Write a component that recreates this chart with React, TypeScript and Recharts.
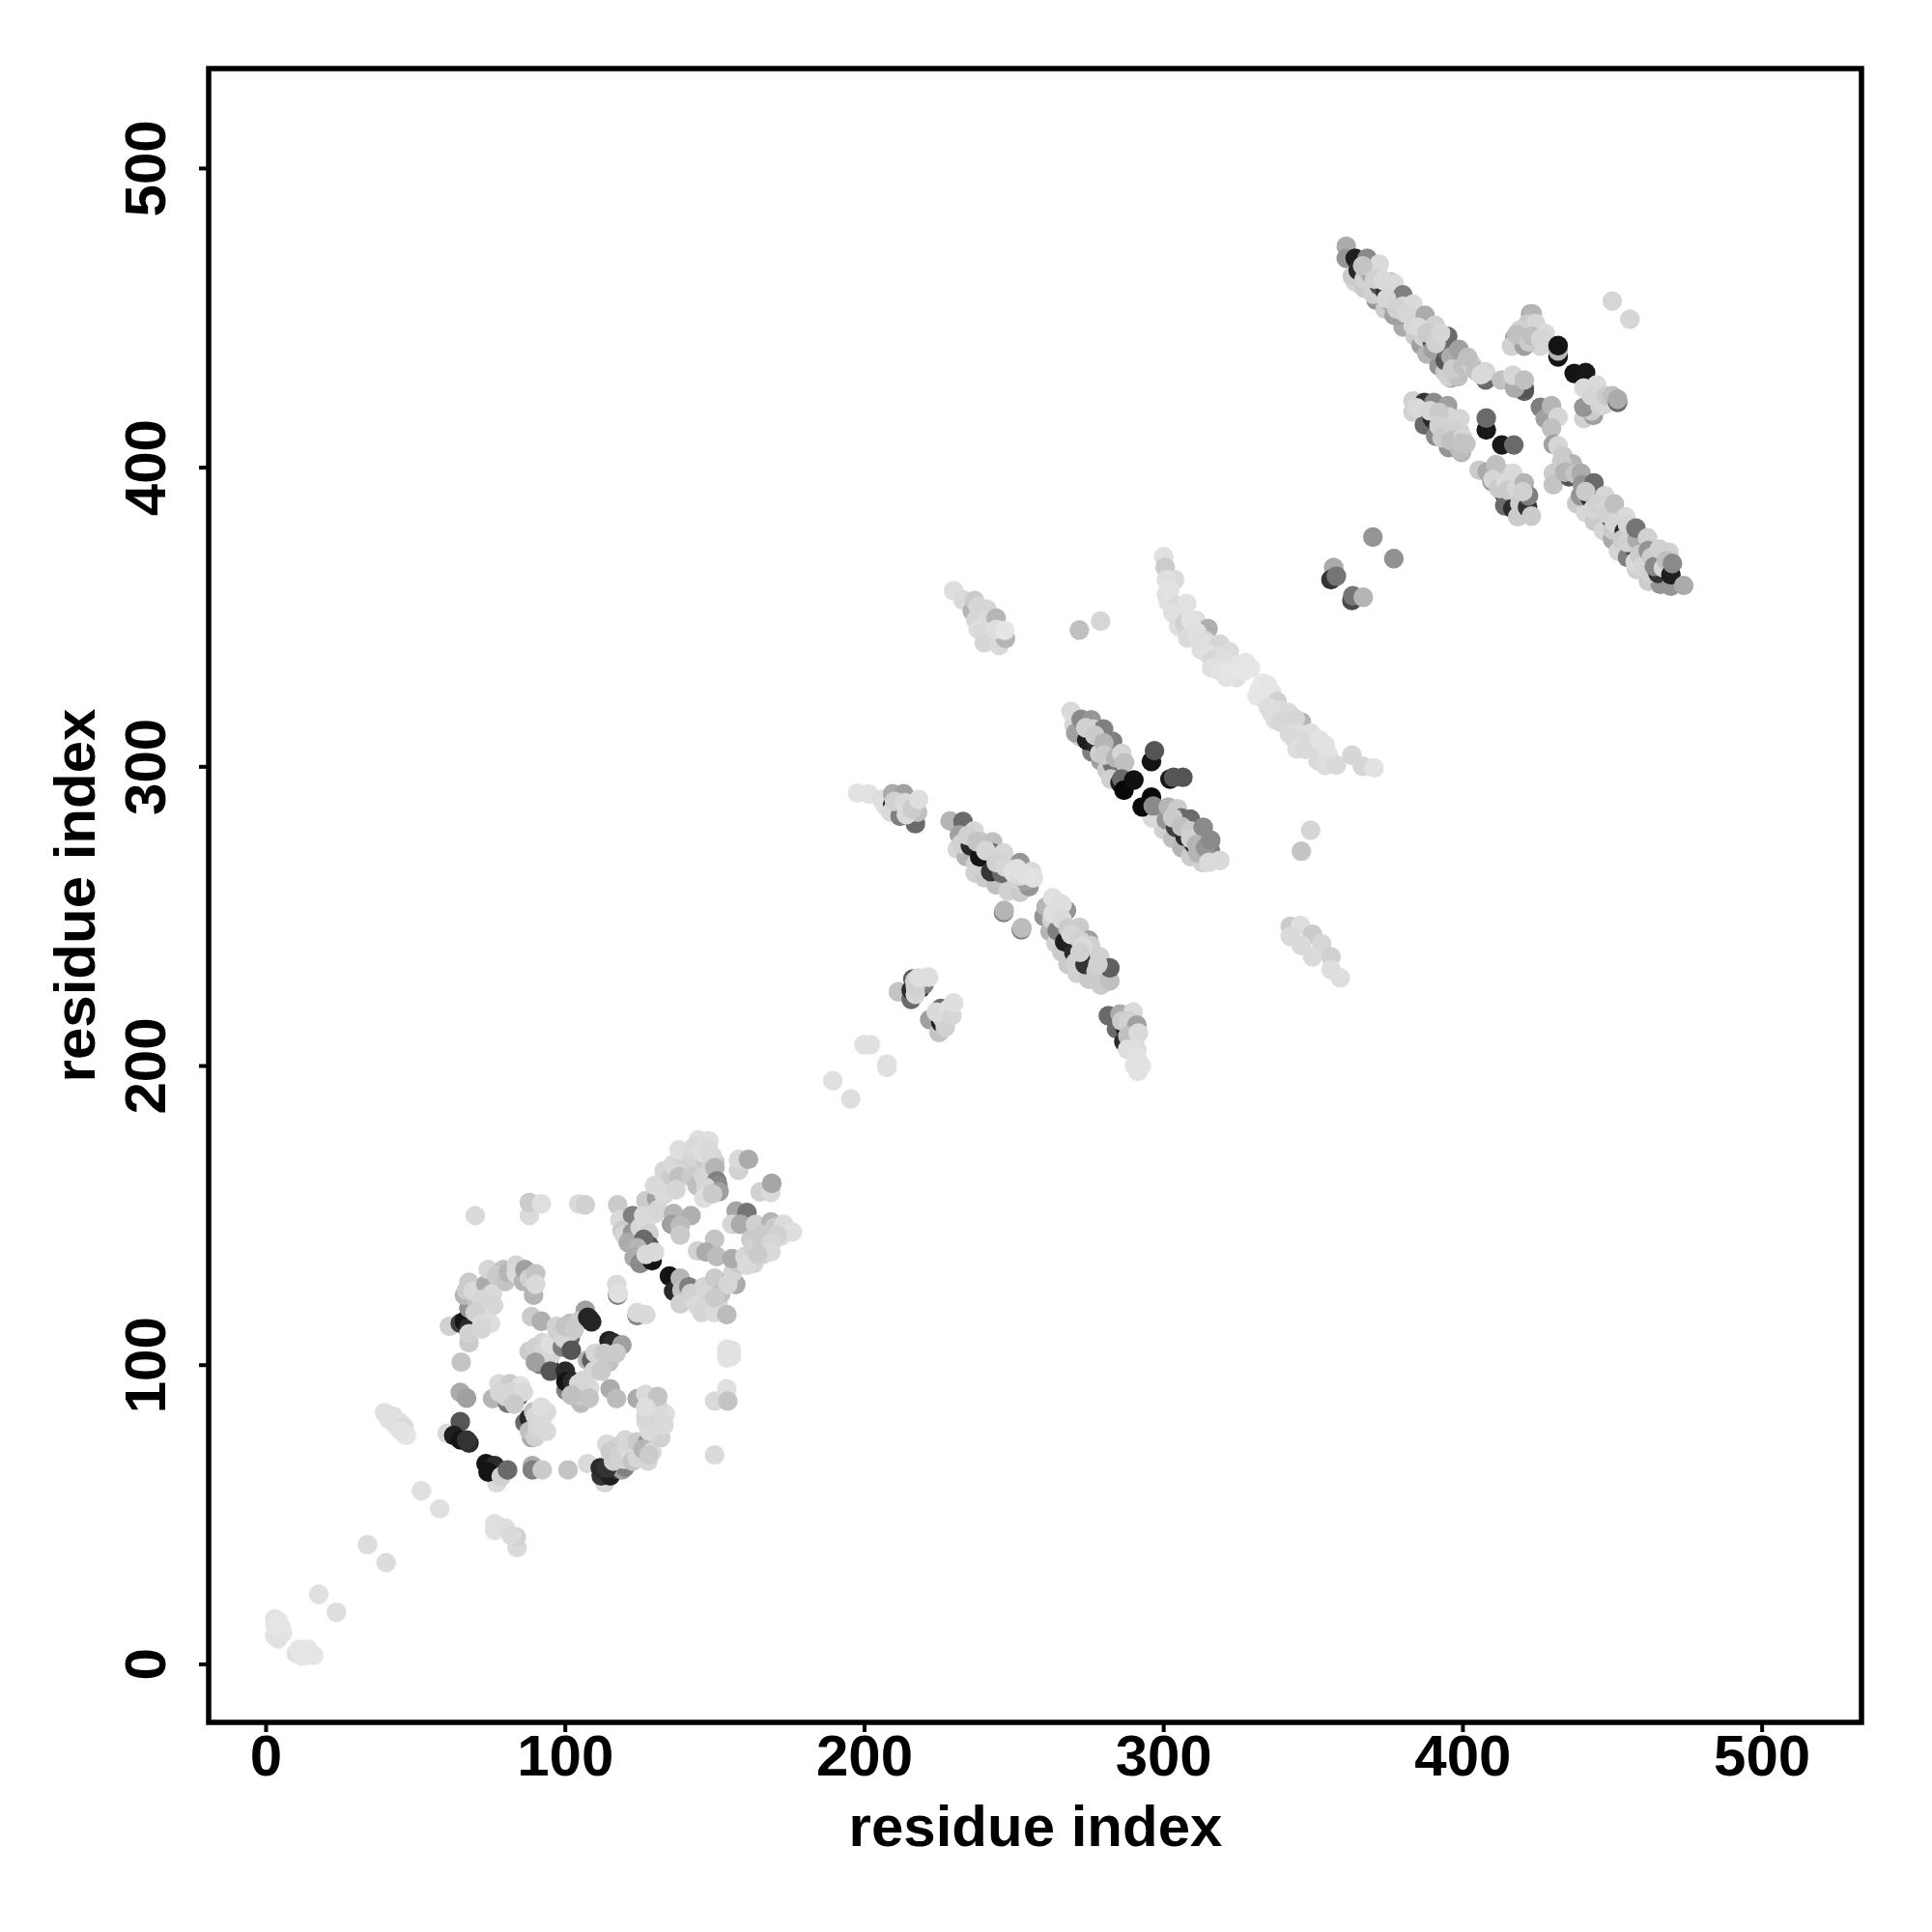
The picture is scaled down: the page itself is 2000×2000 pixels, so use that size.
import React from "react";
import { ScatterChart, Scatter, XAxis, YAxis, ReferenceArea } from "recharts";

type T = [number, number, number];
// each tuple: residue i, residue j, contact strength
const nearOrigin: T[] = [[17.6,23.4,5],[23.5,17.4,6],[2.9,15.2,4],[2.9,9.5,4],[5,12.4,3],[3.5,12,3],[4,14.5,3],[5.5,10.5,3],[4,8.5,4],[3,13,3],[10.1,3.7,5],[13,4.4,3],[15.9,3,3],[13,3,3],[12,2.8,3],[14,5,3],[11,5,3],[33.9,40,7],[40.1,34,7],[51.9,58,5],[58,52,5],
[76.4,47,5],[76.4,44.8,5],[78,46,5],[80,45.5,6],[83.9,39,8],[83.6,42.6,12],[82,43,8],[39.6,84.1,5],[42.5,83,5],[41,82,5],[43.3,80,5],[44.5,81,5],[46.1,79.4,8],[46.9,76.5,3],[45,78,4]];
const ringLower: T[] = [[60.5,77.2,8],[64.9,81.1,70],[62.7,76.5,95],[65,75,100],[67.8,74,90],[67,75,85],[77.1,60.7,8],[73.5,67.1,100],[76.4,66.4,90],[74.2,64.3,100],[78.6,62.8,12],[80.7,65,60],
[89,66.4,30],[89,65,50],[92.3,65,15],[100.9,65,18],[107.4,67.1,8],[113.2,60.7,10],[112,63,85],[115,63,95],[117,65,90],[119,65,35],[120,66,50],[111.7,65.7,90],[113.9,65.7,85],[113.9,73.6,8],[116.1,67.9,12],[117.5,72.9,12],[119.7,68.6,10],[115,71,15],[118,70,12],[121,72,8],[120,75,10],[124,74.3,15],[122.5,67.9,18],[127.6,74.3,45],[127.6,67.9,10],[124,69,10],[126,72,25],[129,71,8],[128,70,15],[131.9,75.8,12],[131.9,80.1,30],[130,77,12],[128,78,8],[127,81,8],[130.5,84.4,8],[133.4,83.7,6],[126.9,83,10],[131,86,8],[133,80,8],[124,88.8,30],[126.9,90.2,8],[130.9,89.5,18],[126.9,85.9,6]];
const ringInner: T[] = [[64.9,90.9,30],[67,89,35],[75.7,88.8,25],[77.8,93.8,8],[80.7,87.3,55],[80,89.5,12],[84.3,89.5,75],[81.5,93.8,15],[85.1,93.1,5],[78,91,10],[82,91,10],[86,91,8],[83,87,15],
[86.5,80.8,60],[87.9,82.3,90],[88.7,75.8,30],[88,78,20],[90,76,12],[90.8,79.4,10],[89.4,84.4,20],[93.7,84.4,8],[93.7,77.9,8],[90,83,10],[92,81,8],[92,86,6],
[88.7,116.2,15],[92,114.7,28],[87.9,104.6,15],[91.5,100.3,50],[94.4,100.3,100],[91.5,103.2,60],[92.3,107.5,10],[95.1,103.2,10],[90,106,12],[93,105,10],[95,107,6],[90,101,35],[95,98,70],
[97.3,111.8,15],[99,106,50],[101.6,109,60],[99.5,109,10],[101.6,111.1,10],[101.6,114,22],[97,113,12],[100,113,18],[103,112,15],[106.7,118.3,35],[104.5,114.7,15],[107.5,116,92],[108.8,114.5,92],[108.1,115.4,92],
[102,105,70],[114.6,108.2,95],[116,107.5,90],[118.9,106.8,35],[107.4,101.7,25],[108.8,101.7,65],[114.6,101,20],[109.6,98.1,10],[106,94.5,12],[110,104,10],[113,104,15],[117,104,15],[112,98,15],
[100.2,91.6,50],[100,98,90],[100.2,94.5,100],[102.4,94.5,90],[104.5,93.8,10],[108.1,92.4,8],[105.2,87.3,22],[104,90,15],[108,89,18],[106,95,10],[102,90,20],[115,92.1,30],[117.1,88.8,22]];
const ringUpper: T[] = [[61.3,113,12],[64.9,114,80],[66.3,114.7,100],[67.8,112.5,90],[67.8,107.5,15],[67.8,110.5,12],[65.2,101,18],[67.8,119,40],[66.3,123.4,25],[67.8,127.7,15],[67,125,15],[70,122,20],[69.2,124.8,8],[75,127.7,50],[73.5,127,30],[74,123,25],[74.2,132,10],[75.7,124,8],[72,122,10],[76,120,10],[71,118,12],[73.5,117.6,10],[72.5,116,8],[75,114,6],[69.9,117.6,12],[72.1,114,8],[72,112,10],[79.3,132,20],[77,130,15],[80,128,18],[81,131,25],[83.6,133.4,10],[83.6,130.6,8],[89.4,123.4,25],[86,128,25],[86.5,132,35],[88,129,12],[90.1,130.6,18],[90.1,127,8],
[69.9,150,8],[88,150,8],[88,154.4,15],[92,153.9,5],[104.5,153.9,8],[106.7,153.6,12],[117.2,127,8],[117.5,123.4,50],[117.7,124,5],[124,116.5,45],[124,117.6,8],[126.9,116.9,8]];
const blockB: T[] = [[117.5,153.6,15],[118.2,148.6,8],[122.5,150,50],[126.9,155,15],[130.5,155.8,35],[129.8,160.1,8],[126.2,150,8],[119,145,15],[119.7,143.5,10],[122.5,144.3,40],[121,141,30],[125,146,10],[126.9,146.4,8],[128,144,12],[128,140,70],[126.2,142.1,60],[124,139.2,25],[123,136,30],[125,134,45],[129.8,150.7,8],[129,136,80],[129,134.9,100],[127,137,8],[129.8,137.8,8],[131,152,10],[133,157,8],[134,160,8],
[134.8,129.8,100],[137,125,80],[136.2,124.8,90],[138.4,129.1,25],[139,125,20],[141.3,126.2,50],[138.4,120.5,12],[142.7,121.9,8],[142,124,12],[144,120,8],[147,120,10],[146.3,126.2,10],[149.9,129.1,15],[151,121,10],[152,124,20],[155.7,129.8,28],[157,127,30],[154.3,127,10],[145.6,117.6,10],[149.9,117.6,8],[154,116.9,22],[149.9,122.6,15],[156,131,10],[158,134,15],
[133,165,10],[137.7,168,10],[135.5,163,15],[136,167,8],[138,163,20],[137,158.7,10],[139,170,12],[138,172,6],[144.5,175.3,6],[143.4,165.9,12],[142.7,170.2,10],[142,163,15],[144,160,20],[143,173,8],[148,175,6],[147,168,15],[150,168,15],[148,165,12],[146,171,6],[149,170,10],[147.8,172.4,8],[146.3,163,10],[150,166,25],[150.6,161.6,50],[151,160,45],[147,159.4,10],[146.3,155.8,6],[151.4,158,35],[149.2,157.2,15],
[157.9,165.2,12],[157.9,168.8,8],[161.2,168.8,30],[165.1,157.9,12],[168.7,157.7,8],[169,160.8,32],
[136.2,150.7,25],[142,150,28],[135.5,147.1,35],[138.4,146.7,22],[138.4,143.5,15],
[157.1,151.5,32],[160.7,151,55],[155.7,147.1,10],[158.6,147.1,30],[163.6,147.1,12],[168.7,147.9,25],[170,146,15],[173,147.1,8],[175.9,144.5,6],[172,143,6],[165.8,143.5,15],[170.8,143.5,12],[162,142,15],
[149.9,142.1,18],[144.2,138.2,12],[147,137.8,30],[150.6,136.3,22],[155.7,135.6,30],[160,136.3,10],[162.9,139.2,12],[166,141,15],[169,141,10],[166,137,12],[168.7,137.8,8],[163,134,10],[160.7,133.4,8],[164.3,137,15],
[154,105.3,4],[155.5,105,4],[155.5,103,4],[154,103.5,4],[154,102.5,4],[154,92.1,5],[149.9,88,8],[154.3,88,18],[149.9,70,8]];
const midDots: T[] = [[199.8,207.1,5],[202,207.1,5],[207.5,200.7,5],[207.5,199.5,5],[189.4,195.1,5],[195.4,189,6]];
const clusterG: T[] = [[211.3,224.8,18],[215.6,222.3,60],[215.6,225.4,90],[216.2,229.1,70],[216.8,228.5,12],[218.7,226,85],[219.9,227.3,50],[217,224,10],[217,226.5,12],[218,229.5,6],[221.4,229.7,6],
[221.8,215.5,35],[224.9,211.2,18],[225.5,214.6,95],[225.5,219.2,60],[227.3,216.8,20],[226,216,15],[227,213,12],[224,218,8],[228,219,5],[229.2,216.8,10],[229.8,221.1,6]];
const stripD: T[] = [[197.7,291.2,4],[201.4,290.9,4],[205.7,289.1,6],[207,287,5],[209.4,287.2,90],[209.4,291,30],[212.5,286,90],[213.1,291,35],[208.8,284.8,8],[211.9,283.5,50],[217,281,60],[217.7,284.8,20],[210,288.5,12],[213.5,288,8],[214,284,8],[216,286,15],[218.1,289.1,6]];
const stripEUnder: T[] = [[231,272.5,10],[234,270,25],[237,264.5,12],[240,263,15],[244,260.5,20],[248,258.5,12],[252,258,15],[255,260,40]];
const stripE: T[] = [[228.6,281.9,25],[232.9,281.7,60],[231.7,277.3,35],[236.6,278.6,10],[232.3,274.2,12],[235.4,273.6,90],[239.1,274.9,15],[237.2,267.5,12],[238.5,269.9,100],[242.8,274.9,20],[242.2,265,85],[242.8,271.2,60],[246.5,271.2,10],[245.9,264.4,60],[252,268,40],[250.8,262.5,12],[253.9,261.9,35],[255.8,265,8],[256.4,262.9,5],
[234.5,277,12],[237.5,275,18],[240.5,272,10],[244,268,12],[247,266.5,10],[249.5,265,5],[252,263.5,8],[254,264,4],[251,266,5],
[246.5,251.3,50],[246.7,252,25],[252.4,245.5,50],[252.6,246.2,22]];
const stripFUnder: T[] = [[260,250,40],[262,245,25],[264,241,12],[266,238,15],[268,234,15],[271,231,12],[275,229,15],[279,227,15]];
const stripF: T[] = [[260.7,253.2,25],[262.9,256.3,5],[264.4,252.6,12],[267.5,252,40],[262.6,248.9,12],[264.4,245.2,50],[271.8,246.4,15],[266.9,241.5,95],[274.9,242.1,35],[270,237.8,90],[275.5,239,95],[275.5,240.3,12],[270.6,234.7,12],[273.7,234,85],[278.6,236.5,12],[277.4,231.6,15],[282,228.5,20],[282,232.8,65],
[264,255,5],[263,251,6],[266,254,6],[266,249,8],[268,246,15],[269,244,10],[272,242,12],[273,240,8],[272,238,12],[278,234,12]];
const clusterI: T[] = [[281.5,216.8,60],[285.4,217.4,30],[284.2,212.4,60],[289.8,218,8],[287.3,212.4,100],[286,215,15],[288,215,12],[291,213.7,35],[286.7,208.1,90],[290.4,209.4,20],[288,210,20],[291.5,211,8],[287.9,205.6,6],[291,205.6,6],[291,203,4],[291.4,201.3,4],[290.3,200,4],[292.5,200,4],[291.4,199.5,4],[291.4,198.2,4]];
const arcTop: T[] = [[229.8,358.9,6],[232.9,355.8,8],[236,352.1,25],[236.8,355.6,15],[240.9,352.7,10],[238,353.5,10],[237.2,349,10],[241,349,8],[244,349.7,25],[238,346,6],[239.7,345.3,8],[240,341.5,10],[243.4,342.2,10],[245,340.5,8],[247.1,342.9,25],[244,346,6],[246.9,345.6,3],[271.8,345.7,20],[278.9,348.7,10]];
const crossBUnder: T[] = [[270,314,10],[272,310,12],[276,305,50],[279,302,35],[281,299,15],[300,279,12],[303,276,20],[306,273,25],[309,270,15],[313,268,12]];
const crossB: T[] = [[269,318.5,8],[270.6,311.3,35],[272.4,315.9,45],[275.8,315.7,40],[274.3,308.9,95],[276.5,312.6,12],[277.4,307.6,90],[279.9,312.6,50],[278.6,304.5,12],[282.9,300.8,55],[282.3,304.5,55],[282.9,308.5,50],[274,313,12],[277,310.5,15],[280,308,25],[280,304,15],[284,303,25],[286,304.5,10],[286.9,301.4,20],
[282.3,295.9,12],[285.4,294.6,95],[286,295.9,60],[286.7,292.2,105],[290,295.6,102],[295.9,301.8,100],[296.9,305.4,70],[302.1,295.9,100],[303.3,296.5,70],[306.4,296.5,70],
[296.2,282.9,8],[295.9,289.9,105],[292.8,286.6,105],[296.5,286.9,45],[300.9,282.3,40],[301.5,286.6,25],[304.6,286,15],[304,279.8,80],[305.8,282.9,60],[308.9,282.5,60],[307.1,276.7,90],[303,283,15],[306,280,20],[308.9,278.6,15],[310.1,274.2,90],[309,276,12],[313.2,279.8,45],[311,274,25],[311.4,271.2,25],[315.7,271.8,50],[314,273,40],[315.7,275.5,45],[315.1,268.1,8],[318.8,268.7,8]];
const arcRight: T[] = [[300,370.3,5],[300.5,366.7,15],[303.7,362.6,8],[300.9,362.6,5],[300.9,357.7,5],[301.5,355.2,5],[302,359,4],[304.6,354,8],[307.7,354.6,4],[304,350.9,8],[303,351.5,5],[306,351,5],[305,347,6],[307,347.8,12],[310.8,349,6],[309,349,4],[314.8,346.2,28],[309.5,344,8],[308,343,8],[311,345,5],[313.9,342.2,10],[312,342,6],[315,341,6],[318.8,341,10],[312.6,339.1,6],[315,337.5,5],[318,337,6],[316.3,335.4,10],[321.9,338.5,8],[320,336,6],[320,334.2,6],[316,333,5],[319,332,4],[323.1,331.1,4],[324.3,329.9,5],[321,330,4],[322,332,3],[325,334.2,3],[327,332,2],[329,333,2],[327.4,334.8,3],
[331.2,323.7,3],[333,323,3],[335,324,3],[332,326,3],[333,328,2],[336,325,3],[334.6,327.4,3],[337.9,321.8,12],[334.9,320,6],[339,319,8],[336,318,6],[341.7,318.1,8],[337.3,315.7,6],[339,315,10],[346,315,25],[344,316,10],[341.7,313.8,10],[342,311,8],[345,311,6],[349.1,311.3,6],[343.5,309.5,8],[346,309,8],[344.5,306,6],[347.2,305.8,8],[349,306,8],[352,309,4],[354,307.3,4],[351.6,302,8],[355,304,4],[354,300.5,6],[357.7,300.6,8],[362.9,303.9,10],[366.4,300.2,10],[370.3,299.6,4],
[349.1,278.8,10],[346,271.8,18],[342.3,246.7,15],[345.7,247,6],[342.3,243.3,8],[349.7,244,15],[346,240.3,8],[352.8,240.9,10],[349.7,236.5,8],[355.9,236.5,12],[355.9,232.2,6],[359,229.5,6]];
const lonePairs: T[] = [[449.9,455.7,10],[455.8,449.6,10],[369.9,376.8,40],[376.9,369.6,42],[356.8,366.6,30],[355.9,362.6,85],[357.7,363.7,55],[362.9,355.6,75],[363.2,357.2,55],[366.7,356.7,25]];
const stripTopUnder: T[] = [[364,462,10],[367,460,15],[371,456,40],[374,453,15],[377,451,35],[380,447,30],[384,444,15],[386,441,35],[388,438,25],[392,434,40],[394,432,15],[396,430,30]];
const stripTop: T[] = [[361,474,30],[361,470,40],[364,470,95],[368,470,45],[363,464,15],[365,466,90],[367,463,12],[369,465,30],[370,458,12],[372,461,70],[372,464,10],[372,468,8],[374,459,85],[376,462,25],[376,455,30],[377,461.6,8],[378.5,450.9,35],[379.9,457.8,50],[380,454,10],[382.8,449.8,85],[383.3,447.6,10],[383.3,454.6,8],[386.6,443.9,12],[387.3,450.9,30],[389.8,442,75],[390.1,439.5,35],[390.7,447.6,12],[394.1,435.8,70],[394.6,439,60],[394.9,443.9,60],
[366.5,467.5,18],[370.5,463,12],[373.5,462.5,8],[374.5,456.5,10],[378,453,12],[381,451.5,10],[385,447,8],[388,445,15],[391,441.5,12],[392.5,445,10],[396,437,30],
[398.7,439.5,35],[397.9,433.6,35],[395.2,430.4,12],[398.4,430.4,20],[396.5,433,15],[400,434,20],[403,434.5,12],[401.6,436.9,20],[404.3,432.5,20],[407.6,429.3,60],[407.6,432,10],[406,431,8],[412.9,429.3,20],[420.5,425.5,65],[420.5,426.5,70],[417.3,426.6,30],[416.7,430.9,10],[420.5,429.3,20]];
const crossUp: T[] = [[422.6,451.4,30],[423.2,451.4,25],[417.3,443.3,35],[421,444.9,25],[416.2,440.6,12],[420.5,440.6,35],[421.6,448,15],[424.3,448.2,10],[425.9,440.6,10],[427.5,444.9,8],[419,446,12],[418,444.5,20],[422,442,15],[423,444,20],[426,443,10],[431.8,437,100],[431.8,439,25],[431.8,440.8,100],[437.2,431.5,100],[441,431.8,98],[440.4,416.4,12],[443.6,417.5,35],[443,419,15],[440.4,420.2,40],[440.4,426.6,8],[444.7,427.7,8],[445.8,420.7,12],[443,424,10],[447,421,10],[448,424,15],[450,424,20],[451.7,421.8,60],[451.7,422.9,30]];
const crossLow: T[] = [[383.3,418.6,12],[383.3,422.3,12],[387.1,414.3,60],[387.1,421.8,85],[389.8,416.4,90],[390.3,421.8,45],[390.9,410.5,45],[394.6,413.2,90],[394.9,420.7,35],[395.2,417,10],[395.2,406.7,40],[384.5,420,8],[389,419,10],[392,418.5,15],[392,414,12],[393,410,15],[399.5,405.1,25],[399,412,12],[399,416.4,10],[397,412.5,12],[396,409,20],[400,410,10],[399,406,22],[401,408,18],[399.5,408.3,18],
[407.8,412.6,98],[407.8,416.6,60],[413,407.6,98],[417,407.6,60],
[405.4,399.2,15],[408.1,398.6,30],[409.7,395.4,40],[413.5,398.1,15],[416.7,398.1,8],[411,401,20],[410,396,10],[413.5,391.6,85],[414,387.3,60],[412,393,15],[417.8,390.6,90],[416.7,386.3,90],[414.5,395,8],[415,392.5,15],[418.3,383.6,15],[418,393,10],[419,388,15],[420.5,394.9,25],[421.6,386.8,85],[421.9,390.6,50],[420,392,12],[422.9,383.8,15]];
const stripBottomUnder: T[] = [[438,388,15],[441,385,10],[444,382,15],[447,379,10],[450,376,30],[452,372,10],[455,370,50],[458,366,12],[462,362,15],[466,361,40]];
const stripBottom: T[] = [[425.9,420.2,50],[427.5,416.4,35],[429.6,420.7,25],[431.8,416.9,10],[429.6,413.2,20],[430.2,407.8,35],[431.8,407.3,10],[433.4,404,15],[430.2,398.1,15],[430.2,394.3,18],[436.6,401.3,25],[435.5,397,70],[433,402,15],[434,398.5,25],[437.5,398,18],[439.5,398.1,30],[439.3,390.6,40],[439.9,394.3,40],[442.5,390,90],[443.8,394.9,60],[441,392,15],[447.4,390.6,10],[443.6,386.3,10],[445,388,12],[449.5,383,90],[447.9,386.3,10],[448,384.5,12],[450.6,387.9,20],[454.4,383.6,8],[450,379.3,15],[451,381.5,10],[453.9,378.7,90],[453.3,376,15],[455,381,10],[457.1,373.4,75],[455,375,12],[458.2,376,30],[457.8,379.8,55],[461.7,376.6,12],[457.6,368.5,8],[461.4,368.5,98],[459,371,15],[460,367,10],[461.9,372.3,40],[463,370,15],[462.5,364.7,12],[465.2,364.7,85],[464,367,45],[467,366.5,10],[465.7,372.8,12],[468.9,371.7,12],[468,369,20],[469.5,360.4,40],[469.5,364.2,95],[470,368,45],[473.8,360.6,30]];

const groups: T[][] = [nearOrigin, ringLower, ringInner, ringUpper, blockB, midDots, clusterG, stripD, stripEUnder, stripE, stripFUnder, stripF, clusterI, arcTop, crossBUnder, crossB, arcRight, lonePairs, stripTopUnder, stripTop, crossUp, crossLow, stripBottomUnder, stripBottom];
const axisTicks = [0, 100, 200, 300, 400, 500];
const axisTitle = "residue index";
const xDomain: [number, number] = [-19.2, 533.2];
const yDomain: [number, number] = [-19.4, 533.4];
const FONT = "'Liberation Sans', Arial, sans-serif";

const Dot = (p: any) => {
  const g = Math.max(8, Math.round(235 - 2.15 * p.payload.w));
  return <circle cx={p.cx} cy={p.cy} r={10.2} fill={`rgb(${g},${g},${g})`} />;
};
const XTick = (p: any) => (
  <text x={p.x} y={1838} textAnchor="middle" fontFamily={FONT} fontWeight="bold" fontSize={60} fill="#000">{p.payload.value}</text>
);
const YTick = (p: any) => (
  <text transform={`translate(171,${p.y}) rotate(-90)`} textAnchor="middle" fontFamily={FONT} fontWeight="bold" fontSize={60} fill="#000">{p.payload.value}</text>
);
const XTitle = () => (
  <text x={1072} y={1911} textAnchor="middle" fontFamily={FONT} fontWeight="bold" fontSize={60} fill="#000">{axisTitle}</text>
);
const YTitle = () => (
  <text transform="translate(98,927) rotate(-90)" textAnchor="middle" fontFamily={FONT} fontWeight="bold" fontSize={60} fill="#000">{axisTitle}</text>
);

export default function App() {
  return (
    <div style={{ position: "absolute", left: 0, top: 0, width: 2000, height: 2000, background: "#fff" }}>
      <ScatterChart width={2000} height={2000} margin={{ left: 0, right: 73, top: 71, bottom: 0 }}>
        <XAxis type="number" dataKey="x" domain={xDomain} ticks={axisTicks} tick={<XTick />} tickSize={10} tickLine={{ stroke: "#000", strokeWidth: 4 }} axisLine={false} height={217} allowDataOverflow label={<XTitle />} />
        <YAxis type="number" dataKey="y" domain={yDomain} ticks={axisTicks} tick={<YTick />} tickSize={10} tickLine={{ stroke: "#000", strokeWidth: 4 }} axisLine={false} width={216} allowDataOverflow label={<YTitle />} />
        {groups.map((g, k) => (
          <Scatter key={k} data={g.map(([x, y, w]) => ({ x, y, w }))} shape={<Dot />} isAnimationActive={false} />
        ))}
        <ReferenceArea x1={xDomain[0]} x2={xDomain[1]} y1={yDomain[0]} y2={yDomain[1]} fill="none" stroke="#000" strokeWidth={5.5} />
      </ScatterChart>
    </div>
  );
}
